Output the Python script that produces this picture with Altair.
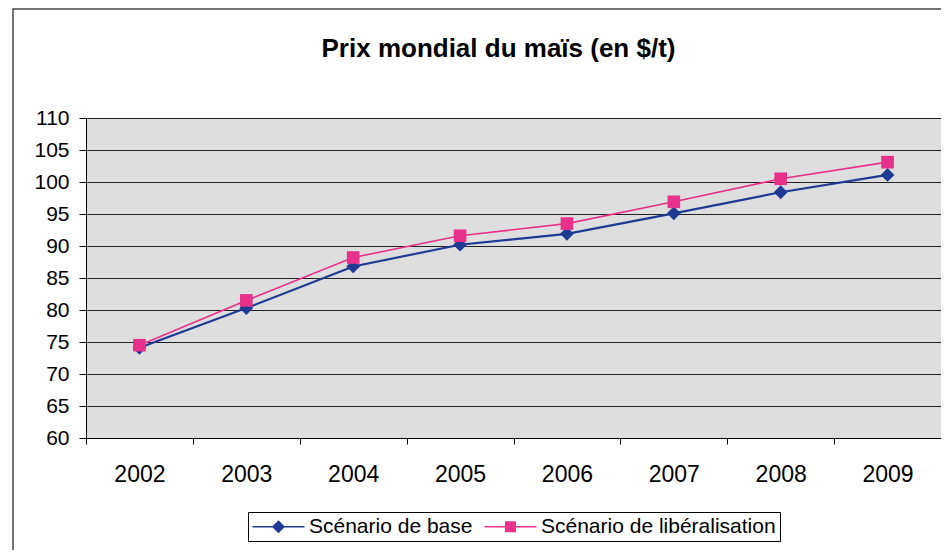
import altair as alt
import pandas as pd

# ---- data ----
years = ["2002", "2003", "2004", "2005", "2006", "2007", "2008", "2009"]
base = [74.1, 80.3, 86.8, 90.2, 91.9, 95.1, 98.4, 101.1]
liberal = [74.5, 81.5, 88.2, 91.6, 93.5, 96.9, 100.5, 103.1]
series_names = ["Scénario de base", "Scénario de libéralisation"]
y_ticks = [60, 65, 70, 75, 80, 85, 90, 95, 100, 105, 110]
title_text = "Prix mondial du maïs (en $/t)"

rows = []
for name, vals in zip(series_names, [base, liberal]):
    for yr, v in zip(years, vals):
        rows.append({"Année": yr, "Prix": v, "Scénario": name})
df = pd.DataFrame(rows)

FONT = "Liberation Sans"
colors = ["#1f3a93", "#e8318a"]

# legend symbols: a line with a marker on it
diamond_path = "M -1 -0.08 L 4.2 -0.08 L 4.2 0.08 L -1 0.08 Z M 1.6 -0.65 L 2.25 0 L 1.6 0.65 L 0.95 0 Z"
square_path = "M -1 -0.08 L 4.2 -0.08 L 4.2 0.08 L -1 0.08 Z M 1.05 -0.55 L 2.15 -0.55 L 2.15 0.55 L 1.05 0.55 Z"

x_enc = alt.X(
    "Année:O",
    sort=years,
    scale=alt.Scale(type="band", paddingInner=0, paddingOuter=0),
    bandPosition=0.5,
    axis=alt.Axis(
        title=None, tickBand="extent", labelAngle=0, labelFontSize=23,
        labelFont=FONT, labelColor="black", labelPadding=19, tickSize=6,
        domainColor="black", tickColor="black", grid=False,
    ),
)
y_enc = alt.Y(
    "Prix:Q",
    scale=alt.Scale(domain=[60, 110], nice=False, zero=False),
    axis=alt.Axis(
        title=None, values=y_ticks, grid=True, gridColor="#222222",
        gridWidth=1, gridOpacity=1, labelFontSize=21, labelFont=FONT,
        labelColor="black", labelPadding=10, tickSize=7,
        domainColor="black", tickColor="black",
    ),
)

base_chart = alt.Chart(df)

border = alt.Chart(pd.DataFrame({"k": [0]})).mark_rect(
    fillOpacity=0, stroke="#444444", strokeWidth=1.5
).encode(
    x=alt.value(-73), x2=alt.value(960), y=alt.value(-109), y2=alt.value(600)
)

def series_layers(name, color, shape, size, width):
    sub = base_chart.transform_filter(alt.datum["Scénario"] == name)
    ln = sub.mark_line(strokeWidth=width, color=color).encode(x=x_enc, y=y_enc)
    pt = sub.mark_point(filled=True, opacity=1, size=size, shape=shape,
                        color=color).encode(x=x_enc, y=y_enc)
    return [ln, pt]

layers_base = series_layers(series_names[0], colors[0], "diamond", 190, 2.2)
layers_lib = series_layers(series_names[1], colors[1], "square", 160, 1.6)

leg = dict(
    title=None, orient="none", legendX=162, legendY=394, direction="horizontal",
    columnPadding=11, symbolSize=400, symbolOpacity=1, symbolStrokeWidth=0,
    labelFontSize=21, labelFont=FONT, labelColor="black", labelOffset=36,
    labelLimit=400, padding=4, strokeColor="black", fillColor="white",
)
legend_layer = base_chart.mark_point(filled=True, opacity=0).encode(
    x=x_enc, y=y_enc,
    color=alt.Color("Scénario:N", scale=alt.Scale(domain=series_names, range=colors),
                    legend=alt.Legend(**leg)),
    shape=alt.Shape("Scénario:N", scale=alt.Scale(domain=series_names,
                    range=[diamond_path, square_path]), legend=alt.Legend(**leg)),
)

chart = alt.layer(border, *layers_base, *layers_lib, legend_layer).properties(
    width=855,
    height=320,
    padding={"left": 78, "top": 110, "right": 0, "bottom": 112},
    autosize="none",
    background="white",
    title=alt.TitleParams(
        title_text, fontSize=26, font=FONT, fontWeight="bold", color="black",
        anchor="middle", dx=-15, offset=-75, baseline="alphabetic",
    ),
).configure_view(fill="#dedede", stroke="#808080")

chart.save("out.html", embed_options={"renderer": "svg", "actions": False})
